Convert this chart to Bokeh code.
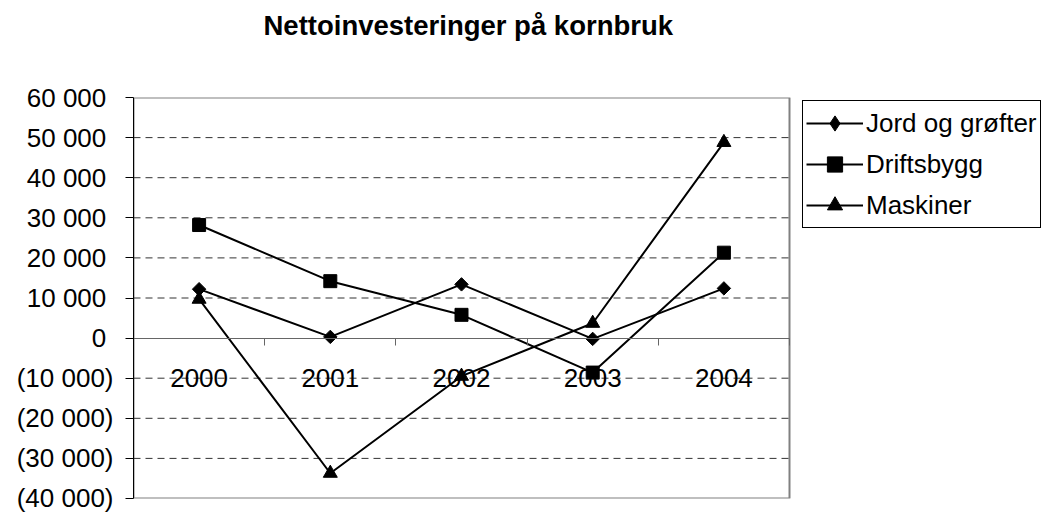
import numpy as np
from bokeh.plotting import figure
from bokeh.models import (FixedTicker, Legend, LegendItem, ColumnDataSource, Title,
                          LinearAxis)
from bokeh.embed import file_html
from bokeh.resources import INLINE

# ---- data ----
years = ["2000", "2001", "2002", "2003", "2004"]
jord_og_grofter = [12200, 300, 13400, -200, 12400]
driftsbygg = [28200, 14200, 5800, -8600, 21300]
maskiner = [9700, -33700, -9500, 3700, 48800]
series_names = ["Jord og grøfter", "Driftsbygg", "Maskiner"]
y_ticks = [-40000, -30000, -20000, -10000, 0, 10000, 20000, 30000, 40000, 50000, 60000]
y_tick_labels = ["(40 000)", "(30 000)", "(20 000)", "(10 000)", "0\u00a0",
                 "10 000\u00a0", "20 000\u00a0", "30 000\u00a0", "40 000\u00a0",
                 "50 000\u00a0", "60 000\u00a0"]
title_text = "Nettoinvesteringer på kornbruk"

FONT = "Liberation Sans"

# ---- layout constants (pixels) ----
PLOT_W = 656      # width of the plot area in the reference
FRAME_W = 917     # the drawing frame also holds the legend to the right
n = len(years)
x_pos = [i + 0.5 for i in range(n)]          # category centres
x_bounds = [i + 1.0 for i in range(n)]        # category boundaries
x_end = n * FRAME_W / PLOT_W

p = figure(x_range=(0, x_end), y_range=(y_ticks[0], y_ticks[-1]),
           width=1054, height=512, output_backend="svg", toolbar_location=None,
           min_border_left=133, min_border_right=1054 - 133 - FRAME_W,
           min_border_top=97, min_border_bottom=14)

# invisible spacer directly above the frame, pushes the title up
p.add_layout(Title(text="\u00a0", text_color="white", text_font_size="10px",
                   standoff=44), "above")

p.title.text = title_text
p.title.text_font = FONT
p.title.text_font_size = "27.5px"
p.title.text_font_style = "bold"
p.title.text_color = "black"
p.title.align = "left"
p.title.offset = 130
p.title.vertical_align = "bottom"
p.title.standoff = 0

p.outline_line_color = None
p.background_fill_color = "white"
p.border_fill_color = "white"
p.xgrid.visible = False
p.ygrid.visible = False

# plot-area border
p.quad(left=0, right=n, bottom=y_ticks[0], top=y_ticks[-1], fill_color=None,
       line_color="#808080", line_width=2)

# dashed horizontal gridlines inside the plot area
grid_vals = [t for t in y_ticks[1:-1] if t != 0]
p.segment(x0=0, x1=n, y0=grid_vals, y1=grid_vals, line_color="#333333",
          line_width=1, line_dash="7 5")

# y axis
p.yaxis.ticker = FixedTicker(ticks=y_ticks)
p.yaxis.major_label_overrides = {t: l for t, l in zip(y_ticks, y_tick_labels)}
p.yaxis.major_tick_out = 8
p.yaxis.major_tick_in = 0
p.yaxis.minor_tick_line_color = None
p.yaxis.axis_line_color = "black"
p.yaxis.major_tick_line_color = "black"
p.yaxis.major_label_standoff = 12
p.yaxis.major_label_text_font = FONT
p.yaxis.major_label_text_font_size = "26px"
p.yaxis.major_label_text_color = "black"

# x axis at zero: category labels
xa = p.xaxis[0]
xa.fixed_location = 0
xa.bounds = (0, n)
xa.ticker = FixedTicker(ticks=x_pos)
xa.major_label_overrides = {x: y for x, y in zip(x_pos, years)}
xa.axis_line_color = "#666666"
xa.major_tick_line_color = None
xa.minor_tick_line_color = None
xa.major_label_standoff = 25
xa.major_label_text_font = FONT
xa.major_label_text_font_size = "26px"
xa.major_label_text_color = "black"

# x axis at zero: ticks at category boundaries
xb = LinearAxis(fixed_location=0, bounds=(0, n), ticker=FixedTicker(ticks=x_bounds),
                axis_line_color=None, major_tick_line_color="#666666",
                major_tick_in=0, major_tick_out=7, minor_tick_line_color=None,
                major_label_text_color=None)
p.add_layout(xb, "below")

src = ColumnDataSource(dict(x=x_pos, jord=jord_og_grofter,
                            drift=driftsbygg, mask=maskiner))

items = []
specs = [("jord", "square", 9.5, np.pi / 4, "diamond", 13),
         ("drift", "square", 13, 0, "square", 10),
         ("mask", "triangle", 14, 0, "triangle", 12)]
for name, (col, marker, size, ang, lmarker, lsize) in zip(series_names, specs):
    p.line("x", col, source=src, line_color="black", line_width=2)
    p.scatter("x", col, source=src, marker=marker, size=size, angle=ang,
              fill_color="black", line_color="black")
    # legend-only renderers (not drawn in the plot area)
    lln = p.line("x", col, source=src, line_color="black", line_width=2, visible=False)
    lsc = p.scatter("x", col, source=src, marker=lmarker, size=lsize,
                    fill_color="black", line_color="black", visible=False)
    items.append(LegendItem(label=name, renderers=[lln, lsc]))

legend = Legend(items=items, location=(669, 270), margin=0, padding=3,
                spacing=3, glyph_width=57, glyph_height=38, label_height=38,
                label_standoff=3, label_text_font=FONT, label_text_color="black",
                label_text_font_size="26px", label_text_baseline="middle",
                border_line_color="black", border_line_width=1, border_line_alpha=1,
                background_fill_color="white", background_fill_alpha=1,
                click_policy="none")
p.add_layout(legend, "center")

open("out.html", "w").write(file_html(p, INLINE))
